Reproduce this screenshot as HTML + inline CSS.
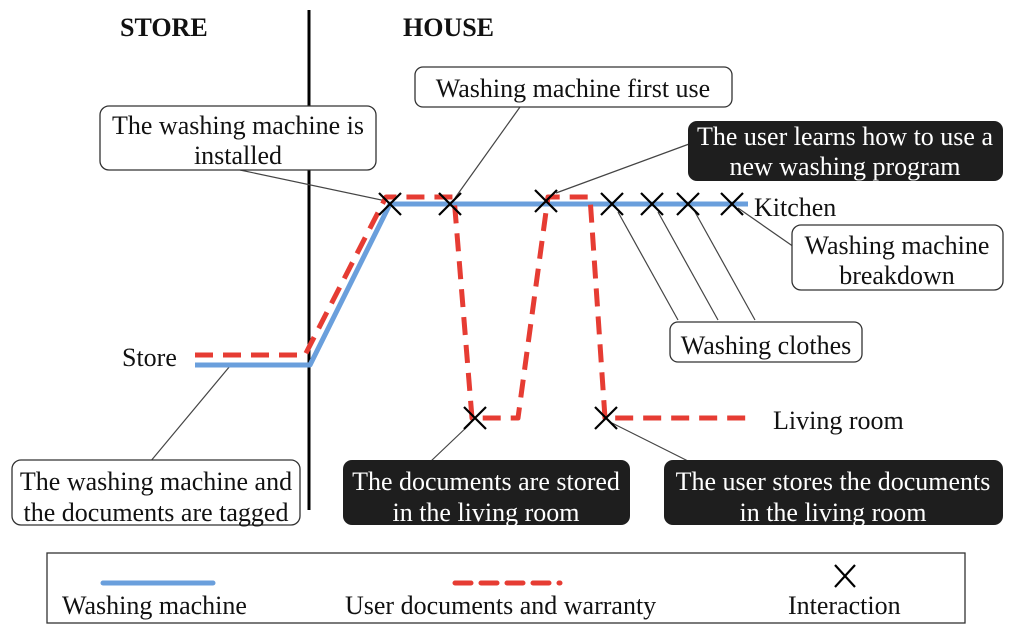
<!DOCTYPE html>
<html><head><meta charset="utf-8"><style>
html,body{margin:0;padding:0;background:#fff;}
svg{display:block;}
text{font-family:"Liberation Serif",serif;font-size:26px;fill:#111;}
.w{fill:#fff;}
</style></head><body>
<svg width="1024" height="637" viewBox="0 0 1024 637" xmlns="http://www.w3.org/2000/svg">
<rect width="1024" height="637" fill="#fff"/>
<text x="120" y="36" font-weight="bold" font-size="32">STORE</text>
<text x="403" y="36" font-weight="bold" font-size="32">HOUSE</text>
<line x1="309" y1="10" x2="309" y2="510" stroke="#000" stroke-width="3"/>

<g stroke="#444" stroke-width="1.2">
<line x1="240" y1="170" x2="386" y2="201"/>
<line x1="520" y1="107" x2="455" y2="198"/>
<line x1="700" y1="140" x2="556" y2="193"/>
<line x1="794" y1="247" x2="738" y2="208"/>
<line x1="678" y1="320" x2="618" y2="212"/>
<line x1="718" y1="320" x2="658" y2="212"/>
<line x1="755" y1="320" x2="695" y2="212"/>
<line x1="150" y1="462" x2="230" y2="366"/>
<line x1="430" y1="462" x2="470" y2="424"/>
<line x1="690" y1="462" x2="612" y2="423"/>
</g>

<polyline points="195,365 310,365 390,204 748,204" fill="none" stroke="#6a9fdc" stroke-width="5" stroke-linejoin="round"/>
<g fill="none" stroke="#e63c33" stroke-width="5" stroke-dasharray="18,10" stroke-linejoin="round">
<polyline points="195,355 305,355 386,197 454,197 472,418 518,418 548,197 590,197 605,418 752,418"/>
</g>

<g stroke="#000" stroke-width="2.2">
<path d="M379,193l22,22M401,193l-22,22"/>
<path d="M439,193l22,22M461,193l-22,22"/>
<path d="M535,190l22,22M557,190l-22,22"/>
<path d="M601,193l22,22M623,193l-22,22"/>
<path d="M641,193l22,22M663,193l-22,22"/>
<path d="M677,193l22,22M699,193l-22,22"/>
<path d="M721,193l22,22M743,193l-22,22"/>
<path d="M464,407l22,22M486,407l-22,22"/>
<path d="M595,407l22,22M617,407l-22,22"/>
</g>

<text x="122" y="366">Store</text>
<text x="754" y="216">Kitchen</text>
<text x="773" y="429">Living room</text>

<g stroke="#333" stroke-width="1.3" fill="#fff">
<rect x="100" y="106" width="276" height="64" rx="9"/>
<rect x="415" y="67" width="317" height="40" rx="8"/>
<rect x="792" y="225" width="211" height="65" rx="9"/>
<rect x="670" y="322" width="192" height="40" rx="8"/>
<rect x="12" y="460" width="288" height="65" rx="9"/>
</g>
<g fill="#1e1e1e">
<rect x="688" y="121" width="315" height="60" rx="9"/>
<rect x="343" y="460" width="287" height="65" rx="9"/>
<rect x="664" y="460" width="339" height="65" rx="9"/>
</g>
<g text-anchor="middle">
<text x="238" y="134">The washing machine is</text>
<text x="238" y="164">installed</text>
<text x="573" y="97">Washing machine first use</text>
<text x="897" y="254">Washing machine</text>
<text x="897" y="284">breakdown</text>
<text x="766" y="354">Washing clothes</text>
<text x="156" y="490">The washing machine and</text>
<text x="156" y="521">the documents are tagged</text>
<text class="w" x="845" y="145">The user learns how to use a</text>
<text class="w" x="845" y="175">new washing program</text>
<text class="w" x="486" y="490">The documents are stored</text>
<text class="w" x="486" y="521">in the living room</text>
<text class="w" x="833" y="490">The user stores the documents</text>
<text class="w" x="833" y="521">in the living room</text>
</g>

<rect x="47" y="553" width="918" height="70" fill="none" stroke="#333" stroke-width="1.3"/>
<line x1="103" y1="583" x2="213" y2="583" stroke="#6a9fdc" stroke-width="5" stroke-linecap="round"/>
<line x1="455" y1="583" x2="560" y2="583" stroke="#e63c33" stroke-width="5" stroke-dasharray="16,10" stroke-linecap="round"/>
<path d="M835,565l20,22M855,565l-20,22" stroke="#000" stroke-width="2.2"/>
<text x="62" y="614">Washing machine</text>
<text x="345" y="614">User documents and warranty</text>
<text x="788" y="614">Interaction</text>
</svg>
</body></html>
